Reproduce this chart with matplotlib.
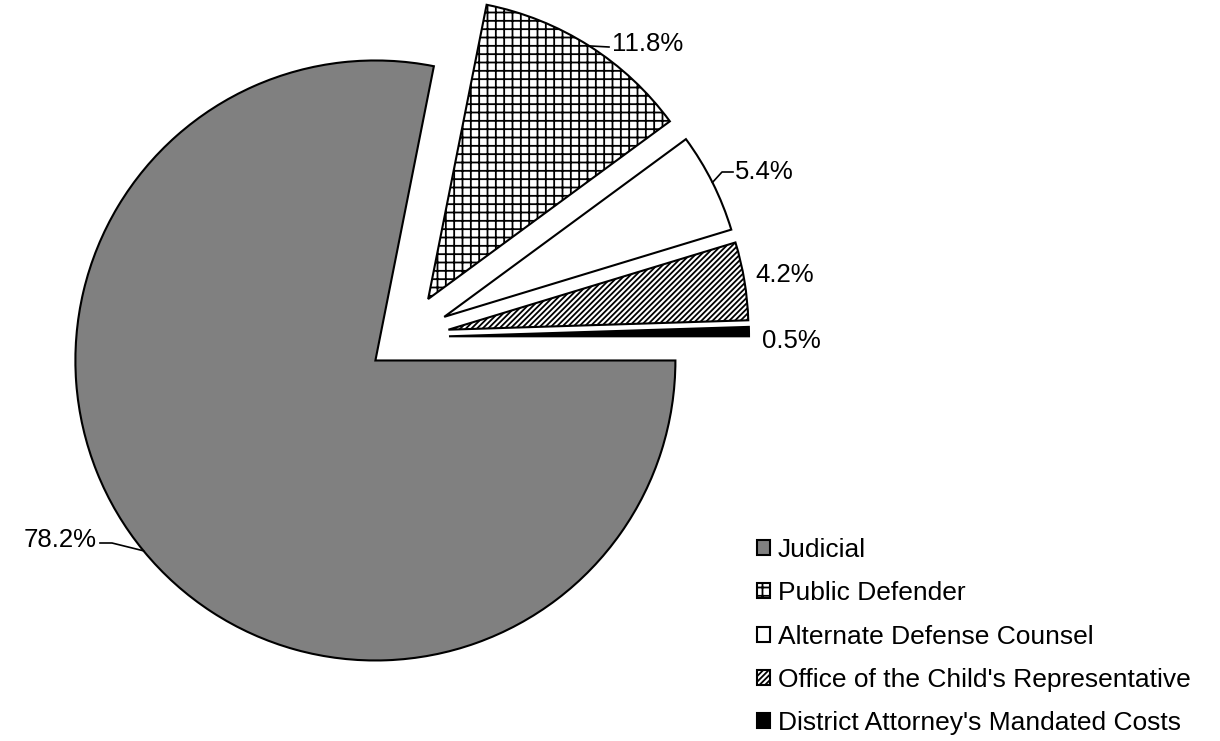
#Distribución del presupuesto - gráfica de pastel

#librerías
import matplotlib
matplotlib.use("Agg")
import matplotlib.pyplot as plt
import numpy as np

plt.rcParams['font.family'] = ['Liberation Sans', 'DejaVu Sans']
plt.rcParams['hatch.linewidth'] = 1.3

#Datos
categorias = ["Judicial", "Public Defender", "Alternate Defense Counsel",
              "Office of the Child's Representative",
              "District Attorney's Mandated Costs"]
porcentajes = [78.2, 11.8, 5.4, 4.2, 0.5]
etiquetas = ["78.2%", "11.8%", "5.4%", "4.2%", "0.5%"]

#Estilos
colores = ["#808080", "white", "white", "white", "black"]
tramas = ["", "++", "", "//////", ""]
separacion = [37, 45, 45, 45, 45]

W, H = 1220, 741

#Convierte coordenada y de pixel (desde arriba) a datos
def py(y):
    return H - y

fig = plt.figure(figsize=(W / 100, H / 100), dpi=100)
ax = fig.add_axes([0, 0, 1, 1])

wedges, _ = ax.pie(porcentajes, explode=separacion, colors=colores,
                   startangle=0, counterclock=False, radius=300,
                   center=(404, 404),
                   wedgeprops=dict(edgecolor="black", linewidth=1.5))
for w, t in zip(wedges, tramas):
    w.set_hatch(t)

ax.set_xlim(0, W)
ax.set_ylim(0, H)
ax.set_aspect("equal")
ax.axis("off")

#Posición del texto y del codo de la línea guía (pixeles)
pos_texto = [(97, 540), (612, 44), (735, 172), (755, 275), (762, 341)]
alineacion = ["right", "left", "left", "left", "left"]
codos = [[(112, 543), (100, 543)], [(609, 47)], [(722, 172), (733, 172)], [], []]

for w, txt, (tx, ty), ha, codo in zip(wedges, etiquetas, pos_texto, alineacion, codos):
    ang = np.deg2rad((w.theta1 + w.theta2) / 2)
    cx, cy = w.center
    px = cx + w.r * np.cos(ang)
    pyy = cy + w.r * np.sin(ang)
    if codo:
        xs = [px] + [c[0] for c in codo]
        ys = [pyy] + [py(c[1]) for c in codo]
        ax.plot(xs, ys, color="black", linewidth=1.2)
    ax.text(tx, py(ty), txt, ha=ha, va="center", fontsize=18.5)

ax.legend(wedges, categorias, loc="upper left",
          bbox_to_anchor=(757 / W, 1 - 538 / H), frameon=False,
          fontsize=19, handlelength=0.5, handleheight=0.5,
          handletextpad=0.3, labelspacing=0.73, borderpad=0,
          borderaxespad=0)

plt.savefig("out.png", dpi=100)
